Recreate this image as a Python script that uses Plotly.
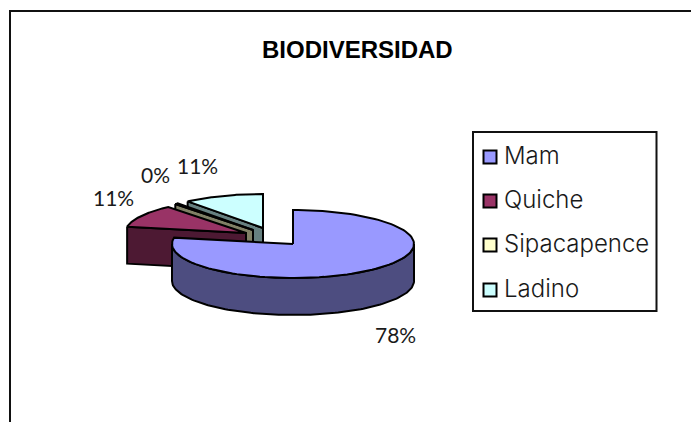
import numpy as np
import plotly.graph_objects as go

# datos
categorias = ['Mam', 'Quiche', 'Sipacapence', 'Ladino']
porcentajes = [78.0, 10.9, 0.4, 10.7]

colores_cara = ['#9999FF', '#993366', '#FFFFCC', '#CCFFFF']
colores_lado = ['#4D4D80', '#4D1933', '#808066', '#668080']

# geometria de la torta (en pixeles de la pagina)
CENTRO_X, CENTRO_Y = 293, 244
RX, RY = 121, 34
ALTO = 37
# desplazamiento de cada porcion respecto al centro
separar_x = [0, -47, -40, -30]
separar_y = [0, -11, -14, -16]
etiquetas_x = [395, 113, 155, 197]
etiquetas_y = [334, 197, 174, 165]

FUENTE = 'Lato'
NEGRO = '#000000'


def arco(ang0, ang1, cx, cy):
    t = np.linspace(ang0, ang1, 120)
    return cx + RX * np.sin(t), cy - RY * np.cos(t)


def poligono(fig, xs, ys, color):
    fig.add_trace(go.Scatter(
        x=list(xs) + [xs[0]], y=list(ys) + [ys[0]],
        mode='lines', fill='toself', fillcolor=color,
        line=dict(color=NEGRO, width=2),
        hoverinfo='skip', showlegend=False
    ))


fig = go.Figure()

total = sum(porcentajes)
inicio = np.cumsum([0] + porcentajes[:-1]) / total * 2 * np.pi
fin = np.cumsum(porcentajes) / total * 2 * np.pi

# se dibuja de atras hacia adelante: Ladino, Sipacapence, Quiche, Mam
for i in [3, 2, 1, 0]:
    cx = CENTRO_X + separar_x[i]
    cy = CENTRO_Y + separar_y[i]
    x_arco, y_arco = arco(inicio[i], fin[i], cx, cy)

    if i == 0:
        # pared exterior visible de Mam
        xa, ya = arco(np.pi / 2, 3 * np.pi / 2, cx, cy)
        poligono(fig, np.r_[xa, xa[::-1]], np.r_[ya, ya[::-1] + ALTO], colores_lado[i])
    else:
        # pared del corte
        poligono(fig, [x_arco[0], cx, cx, x_arco[0]],
                 [y_arco[0], cy, cy + ALTO, y_arco[0] + ALTO], colores_lado[i])

    poligono(fig, np.r_[cx, x_arco], np.r_[cy, y_arco], colores_cara[i])

# leyenda
ley_y = [157, 201, 245, 290]
fig.add_trace(go.Scatter(
    x=[490] * len(categorias), y=ley_y,
    mode='markers', hoverinfo='skip', showlegend=False,
    marker=dict(symbol='square', size=13, color=colores_cara,
                line=dict(color=NEGRO, width=2))
))
fig.add_trace(go.Scatter(
    x=[504] * len(categorias), y=[v + 1 for v in ley_y], text=categorias,
    mode='text', textposition='middle right', hoverinfo='skip', showlegend=False,
    textfont=dict(family='Inter', size=24, weight=300, color='#1a1a1a')
))

# etiquetas de porcentaje
for v, x, y in zip(porcentajes, etiquetas_x, etiquetas_y):
    fig.add_annotation(x=x, y=y, text=f'{round(v)}%', showarrow=False,
                       font=dict(family=FUENTE, size=21, color='#1a1a1a'))

fig.add_annotation(x=357, y=49, text='<b>BIODIVERSIDAD</b>', showarrow=False,
                   font=dict(family='Liberation Sans', size=24, color=NEGRO))

fig.update_layout(
    width=691, height=422,
    margin=dict(l=0, r=0, t=0, b=0),
    paper_bgcolor='white', plot_bgcolor='white',
    showlegend=False,
    xaxis=dict(range=[0, 691], visible=False, fixedrange=True),
    yaxis=dict(range=[422, 0], visible=False, fixedrange=True),
    shapes=[
        # marco del grafico, cortado por la derecha y por abajo
        dict(type='rect', x0=10, y0=11, x1=720, y1=450, layer='below',
             line=dict(color='#111111', width=2)),
        dict(type='rect', x0=473, y0=132, x1=656.5, y1=311, layer='below',
             line=dict(color='#111111', width=2), fillcolor='white'),
    ]
)

fig.write_html("out.html", config=dict(displayModeBar=False),
               post_script="document.body.style.margin='0';document.body.style.overflow='hidden';")
